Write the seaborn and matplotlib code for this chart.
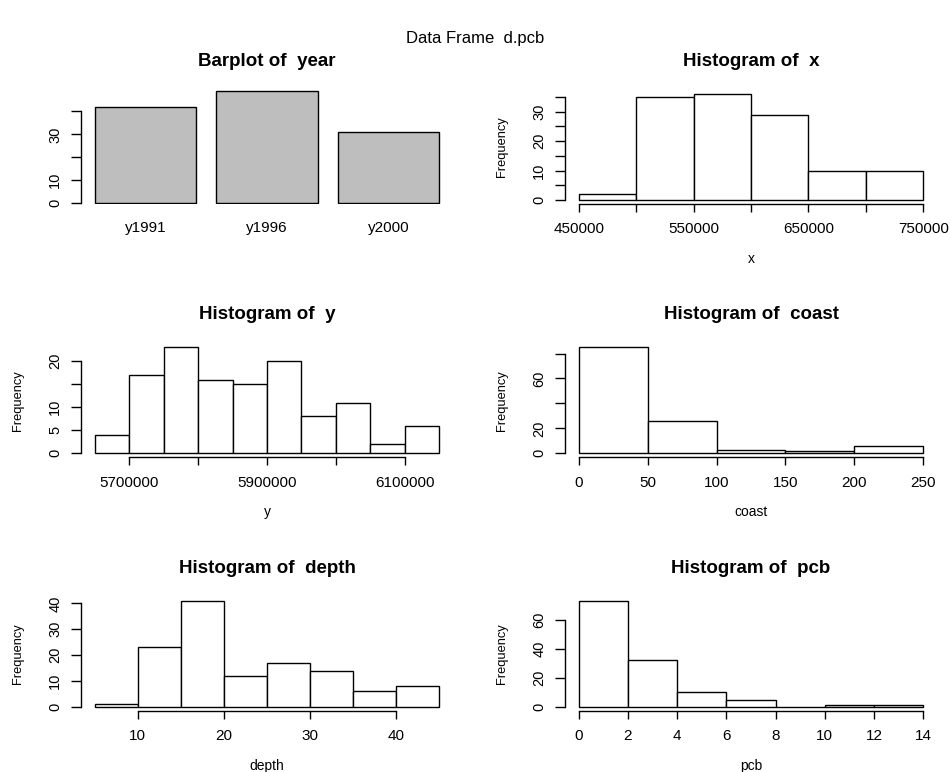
import numpy as np
import matplotlib
matplotlib.use("Agg")
import matplotlib.pyplot as plt
import pandas as pd
import seaborn as sns

# =========================
# DATA
# =========================
year_labels = ["y1991", "y1996", "y2000"]
year_counts = [42, 49, 31]

x_edges = [450000, 500000, 550000, 600000, 650000, 700000, 750000]
x_counts = [2, 35, 36, 29, 10, 10]

y_edges = [5650000, 5700000, 5750000, 5800000, 5850000, 5900000,
           5950000, 6000000, 6050000, 6100000, 6150000]
y_counts = [4, 17, 23, 16, 15, 20, 8, 11, 2, 6]

coast_edges = [0, 50, 100, 150, 200, 250]
coast_counts = [85, 26, 3, 2, 6]

depth_edges = [5, 10, 15, 20, 25, 30, 35, 40, 45]
depth_counts = [1, 23, 41, 12, 17, 14, 6, 8]

pcb_edges = [0, 2, 4, 6, 8, 10, 12, 14]
pcb_counts = [73, 32, 10, 5, 0, 1, 1]

# =========================
# STYLE
# =========================
sns.set_theme(style="white")
plt.rcParams["font.family"] = ["Liberation Sans", "DejaVu Sans"]
plt.rcParams["axes.linewidth"] = 1.0
for key in ["text.color", "axes.labelcolor", "xtick.color", "ytick.color",
            "axes.edgecolor"]:
    plt.rcParams[key] = "black"

fig = plt.figure(figsize=(9.51, 7.72), dpi=100)

# panel boxes in figure fractions (R-like mfrow 3x2 layout)
col_left = [0.0852, 0.5941]
row_bottom = [0.7355, 0.4074, 0.0790]
w, h = 0.3912, 0.1482
title_y = 1 + 28.5 / 114.4


def r_axes(ax, yticks, ylabels_shown):
    ax.spines["top"].set_visible(False)
    ax.spines["right"].set_visible(False)
    ax.set_yticks(yticks)
    ax.set_yticklabels([str(t) if t in ylabels_shown else "" for t in yticks],
                       rotation=90, va="center", fontsize=10.5)
    ax.spines["left"].set_bounds(yticks[0], yticks[-1])
    ax.tick_params(axis="y", direction="out", length=7, width=1,
                   pad=6.5, left=True, color="black")
    ax.grid(False)


def hist_panel(ax, edges, counts, name, xticks, xlabels_shown, yticks, ylabels_shown):
    df = pd.DataFrame({
        "mid": [(a + b) / 2 for a, b in zip(edges[:-1], edges[1:])],
        "n": counts,
    })
    sns.histplot(data=df, x="mid", weights="n", bins=list(edges), ax=ax,
                 color="white", edgecolor="black", linewidth=1.0, alpha=1)
    span = edges[-1] - edges[0]
    top = max(counts)
    ax.set_xlim(edges[0] - 0.04 * span, edges[-1] + 0.04 * span)
    ax.set_ylim(-0.04 * top, 1.04 * top)
    r_axes(ax, yticks, ylabels_shown)
    ax.set_xticks(xticks)
    ax.set_xticklabels([str(t) if t in xlabels_shown else "" for t in xticks],
                       fontsize=11)
    ax.spines["bottom"].set_bounds(xticks[0], xticks[-1])
    ax.tick_params(axis="x", direction="out", length=5.5, width=1,
                   pad=7.5, bottom=True, color="black")
    ax.set_title("Histogram of  " + name, fontsize=13.5, fontweight="bold",
                 y=title_y, va="center", pad=0)
    ax.set_xlabel(name, fontsize=10)
    ax.xaxis.set_label_coords(0.5, -55 / 114.4)
    ax.xaxis.label.set_va("center")
    ax.set_ylabel("Frequency", fontsize=9.3)
    ax.yaxis.set_label_coords(-63 / 372, 0.5)
    ax.yaxis.label.set_va("center")


# =========================
# BARPLOT OF YEAR
# =========================
ax = fig.add_axes([col_left[0], row_bottom[0], w, h])
sns.barplot(x=year_labels, y=year_counts, ax=ax, color="#BEBEBE",
            saturation=1, edgecolor="black", linewidth=1.0, width=1 / 1.2)
ax.set_xlim(-0.532, 2.532)
ax.set_ylim(-0.4, 49.4)
r_axes(ax, [0, 10, 20, 30, 40], [0, 10, 30])
ax.spines["bottom"].set_visible(False)
ax.tick_params(axis="x", length=0, pad=12, labelsize=11)
ax.set_xlabel("")
ax.set_ylabel("")
ax.set_title("Barplot of  year", fontsize=13.5, fontweight="bold",
             y=title_y, va="center", pad=0)

# =========================
# HISTOGRAMS
# =========================
ax = fig.add_axes([col_left[1], row_bottom[0], w, h])
hist_panel(ax, x_edges, x_counts, "x",
           [450000, 500000, 550000, 600000, 650000, 700000, 750000],
           [450000, 550000, 650000, 750000],
           [0, 5, 10, 15, 20, 25, 30, 35], [0, 10, 20, 30])

ax = fig.add_axes([col_left[0], row_bottom[1], w, h])
hist_panel(ax, y_edges, y_counts, "y",
           [5700000, 5800000, 5900000, 6000000, 6100000],
           [5700000, 5900000, 6100000],
           [0, 5, 10, 15, 20], [0, 5, 10, 20])

ax = fig.add_axes([col_left[1], row_bottom[1], w, h])
hist_panel(ax, coast_edges, coast_counts, "coast",
           [0, 50, 100, 150, 200, 250], [0, 50, 100, 150, 200, 250],
           [0, 20, 40, 60, 80], [0, 20, 60])

ax = fig.add_axes([col_left[0], row_bottom[2], w, h])
hist_panel(ax, depth_edges, depth_counts, "depth",
           [10, 20, 30, 40], [10, 20, 30, 40],
           [0, 10, 20, 30, 40], [0, 10, 20, 30, 40])

ax = fig.add_axes([col_left[1], row_bottom[2], w, h])
hist_panel(ax, pcb_edges, pcb_counts, "pcb",
           [0, 2, 4, 6, 8, 10, 12, 14], [0, 2, 4, 6, 8, 10, 12, 14],
           [0, 20, 40, 60], [0, 20, 40, 60])

fig.suptitle("Data Frame  d.pcb", y=1 - 38 / 772, va="center", fontsize=12)

fig.savefig("out.png", dpi=100)
